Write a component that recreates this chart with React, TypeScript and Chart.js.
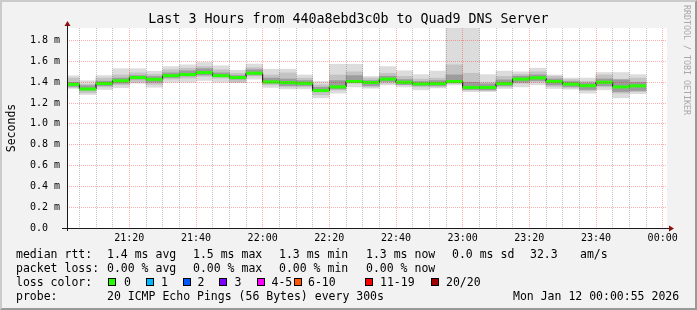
import React, { useEffect, useRef } from "react";
import { Chart, registerables } from "chart.js";

Chart.register(...registerables);

// ---------- data ----------
// time axis: minutes after 21:00
const xMin = 1.3;
const xMax = 181.3;
const stepMinutes = 5;
const xTickLabels = ["21:20", "21:40", "22:00", "22:20", "22:40", "23:00", "23:20", "23:40", "00:00"];
const xLabelEvery = 20;

const yMax = 1.921;
const yMajorTicks = [0, 0.2, 0.4, 0.6, 0.8, 1.0, 1.2, 1.4, 1.6, 1.8];
const yTickLabels = ["0.0  ", "0.2 m", "0.4 m", "0.6 m", "0.8 m", "1.0 m", "1.2 m", "1.4 m", "1.6 m", "1.8 m"];
const yMinorStep = 0.1;

// median rtt per 5-minute step (ms), first step 21:00-21:05
const median = [
  1.380, 1.335, 1.388, 1.414, 1.445, 1.428, 1.463, 1.474, 1.493, 1.463,
  1.445, 1.487, 1.403, 1.396, 1.390, 1.320, 1.355, 1.407, 1.398, 1.430,
  1.400, 1.384, 1.387, 1.407, 1.350, 1.350, 1.387, 1.430, 1.442, 1.407,
  1.382, 1.367, 1.400, 1.355, 1.365,
];
const smokeMax = [
  1.462, 1.415, 1.464, 1.530, 1.530, 1.505, 1.550, 1.567, 1.590, 1.558,
  1.515, 1.575, 1.525, 1.525, 1.470, 1.407, 1.573, 1.573, 1.455, 1.550,
  1.510, 1.473, 1.507, 2.000, 2.000, 1.473, 1.507, 1.500, 1.535, 1.470,
  1.440, 1.440, 1.493, 1.493, 1.473,
];
const smokeMin = [
  1.340, 1.282, 1.330, 1.348, 1.390, 1.352, 1.400, 1.400, 1.417, 1.400,
  1.397, 1.430, 1.350, 1.336, 1.336, 1.250, 1.295, 1.355, 1.343, 1.375,
  1.355, 1.327, 1.345, 1.375, 1.310, 1.310, 1.340, 1.355, 1.375, 1.340,
  1.333, 1.295, 1.327, 1.250, 1.290,
];
const midHi = [
  1.440, 1.380, 1.440, 1.470, 1.490, 1.475, 1.520, 1.535, 1.550, 1.520,
  1.486, 1.540, 1.470, 1.490, 1.440, 1.375, 1.470, 1.500, 1.440, 1.486,
  1.457, 1.430, 1.440, 1.567, 1.486, 1.400, 1.457, 1.475, 1.500, 1.457,
  1.425, 1.410, 1.470, 1.430, 1.440,
];
const midLo = [
  1.350, 1.300, 1.355, 1.375, 1.400, 1.380, 1.430, 1.440, 1.457, 1.440,
  1.400, 1.460, 1.375, 1.355, 1.355, 1.280, 1.325, 1.390, 1.355, 1.390,
  1.375, 1.355, 1.355, 1.390, 1.325, 1.320, 1.355, 1.390, 1.400, 1.360,
  1.345, 1.320, 1.355, 1.295, 1.310,
];
const innerHi = [
  1.400, 1.367, 1.410, 1.440, 1.464, 1.455, 1.490, 1.510, 1.530, 1.490,
  1.464, 1.520, 1.440, 1.432, 1.416, 1.352, 1.416, 1.464, 1.416, 1.458,
  1.426, 1.407, 1.416, 1.471, 1.400, 1.384, 1.423, 1.458, 1.471, 1.432,
  1.407, 1.394, 1.432, 1.423, 1.400,
];
const innerLo = [
  1.360, 1.326, 1.367, 1.390, 1.430, 1.400, 1.445, 1.460, 1.470, 1.457,
  1.430, 1.470, 1.390, 1.368, 1.368, 1.320, 1.336, 1.400, 1.368, 1.407,
  1.378, 1.368, 1.368, 1.394, 1.330, 1.327, 1.368, 1.400, 1.416, 1.375,
  1.359, 1.330, 1.368, 1.311, 1.320,
];

const titleText = "Last 3 Hours from 440a8ebd3c0b to Quad9 DNS Server";
const yAxisTitle = "Seconds";
const sideText = "RRDTOOL / TOBI OETIKER";
const rttLabel = "median rtt:";
const rttStats = ["1.4 ms avg", "1.5 ms max", "1.3 ms min", "1.3 ms now", "0.0 ms sd", "32.3", "am/s"];
const lossLabel = "packet loss:";
const lossStats = ["0.00 % avg", "0.00 % max", "0.00 % min", "0.00 % now"];
const lossColorLabel = "loss color:";
const lossColorNames = ["0", "1", "2", "3", "4-5", "6-10", "11-19", "20/20"];
const lossColorValues = ["#26ff00", "#00b8ff", "#0059ff", "#7e00ff", "#ff00ff", "#ff5500", "#ff0000", "#a10000"];
const probeLabel = "probe:";
const probeText = "20 ICMP Echo Pings (56 Bytes) every 300s";
const dateText = "Mon Jan 12 00:00:55 2026";

// ---------- layout / style ----------
const W = 697;
const H = 310;
const MONO = "'DejaVu Sans Mono', monospace";
const statX = [107, 193, 279, 366, 452, 530, 580];
const swatchX = [108, 145.5, 182.5, 219, 256.5, 294, 365, 430.5];
const swatchLabelX = [124, 161, 197.5, 234.5, 271.5, 308, 380, 446];
const rowY = [254, 268, 282, 296];

const isMultiple = (v: number, step: number) => Math.abs(v / step - Math.round(v / step)) < 1e-6;

const barSet = (lo: number[], hi: number[], color: string, order: number) => ({
  type: "bar" as const,
  data: hi.map((h, i) => ({ x: (i + 0.5) * stepMinutes, y: [lo[i], h] })),
  backgroundColor: color,
  borderWidth: 0,
  grouped: false,
  barPercentage: 1,
  categoryPercentage: 1,
  clip: 0,
  order,
});

const framePlugin = {
  id: "rrdframe",
  beforeDraw(chart: any) {
    const { ctx, chartArea: a } = chart;
    ctx.save();
    ctx.fillStyle = "#ffffff";
    ctx.fillRect(a.left, a.top, a.right - a.left, a.bottom - a.top);
    ctx.restore();
  },
  afterDraw(chart: any) {
    const { ctx, chartArea: a } = chart;
    ctx.save();
    ctx.strokeStyle = "#1a1a1a";
    ctx.lineWidth = 1;
    ctx.beginPath();
    ctx.moveTo(a.left - 5, Math.round(a.bottom) + 0.5);
    ctx.lineTo(a.right + 3, Math.round(a.bottom) + 0.5);
    ctx.moveTo(Math.round(a.left) + 0.5, a.bottom + 3);
    ctx.lineTo(Math.round(a.left) + 0.5, a.top - 2);
    ctx.stroke();
    ctx.fillStyle = "#8b1010";
    const bx = a.right + 2;
    const by = Math.round(a.bottom) + 0.5;
    ctx.beginPath();
    ctx.moveTo(bx, by - 3);
    ctx.lineTo(bx + 5, by);
    ctx.lineTo(bx, by + 3);
    ctx.closePath();
    ctx.fill();
    const lx = Math.round(a.left) + 0.5;
    const ty = a.top - 2;
    ctx.beginPath();
    ctx.moveTo(lx - 3, ty);
    ctx.lineTo(lx, ty - 5);
    ctx.lineTo(lx + 3, ty);
    ctx.closePath();
    ctx.fill();
    ctx.restore();
  },
};

export default function App() {
  const ref = useRef<HTMLCanvasElement>(null);

  useEffect(() => {
    if (!ref.current) return;
    const gridColor = (step: number) => (ctx: any) =>
      ctx.tick && isMultiple(ctx.tick.value, step) ? "rgba(255,0,0,0.32)" : "rgba(100,100,100,0.38)";

    const chart = new Chart(ref.current, {
      type: "bar",
      data: {
        datasets: [
          barSet(smokeMin, smokeMax, "#dcdcdc", 5),
          barSet(midLo, midHi, "#c3c3c3", 4),
          barSet(innerLo, innerHi, "#9c9c9c", 3),
          {
            type: "line",
            data: [{ x: 0, y: median[0] }, ...median.map((v, i) => ({ x: (i + 1) * stepMinutes, y: v }))],
            stepped: "after",
            borderColor: "#000000",
            borderWidth: 1,
            pointRadius: 0,
            fill: false,
            clip: 0,
            order: 2,
          },
          {
            type: "line",
            data: median.map((v, i) => ({ x: (i + 0.5) * stepMinutes, y: v })),
            showLine: false,
            pointStyle: "line",
            pointRadius: (ctx: any) => {
              const s = ctx.chart.scales.x;
              return Math.abs(s.getPixelForValue(stepMinutes) - s.getPixelForValue(0)) / 2;
            },
            pointBorderWidth: 3,
            pointBorderColor: "#26ff00",
            pointBackgroundColor: "#26ff00",
            clip: 0,
            order: 1,
          },
        ] as any,
      },
      options: {
        responsive: false,
        maintainAspectRatio: false,
        animation: false,
        events: [],
        layout: { padding: { top: 28, right: 30, bottom: 0, left: 0 } },
        plugins: { legend: { display: false }, tooltip: { enabled: false }, title: { display: false } },
        scales: {
          x: {
            type: "linear",
            min: xMin,
            max: xMax,
            offset: false,
            afterBuildTicks: (scale: any) => {
              const ticks = [];
              for (let v = stepMinutes; v <= xMax; v += stepMinutes) ticks.push({ value: v });
              scale.ticks = ticks;
            },
            afterFit: (scale: any) => {
              scale.height = 82;
              scale.paddingLeft = 0;
              scale.paddingRight = 0;
            },
            ticks: {
              autoSkip: false,
              maxRotation: 0,
              minRotation: 0,
              padding: 4,
              color: "#000000",
              font: { family: MONO, size: 10 },
              callback: (value: any) => {
                const v = Number(value);
                return isMultiple(v, xLabelEvery) ? xTickLabels[Math.round(v / xLabelEvery) - 1] ?? "" : "";
              },
            },
            grid: { offset: false, drawTicks: false, color: gridColor(xLabelEvery), lineWidth: 1, z: 1 },
            border: { display: false, dash: [1, 1] },
          },
          y: {
            type: "linear",
            min: 0,
            max: yMax,
            afterBuildTicks: (scale: any) => {
              const ticks = [];
              const n = Math.floor(yMax / yMinorStep + 1e-6);
              for (let i = 0; i <= n; i++) ticks.push({ value: Math.round(i * yMinorStep * 1000) / 1000 });
              scale.ticks = ticks;
            },
            afterFit: (scale: any) => {
              scale.width = 67;
              scale.paddingTop = 0;
              scale.paddingBottom = 0;
            },
            ticks: {
              padding: 7,
              color: "#000000",
              font: { family: MONO, size: 10 },
              callback: (value: any) => {
                const v = Number(value);
                const idx = yMajorTicks.findIndex((t) => Math.abs(t - v) < 1e-6);
                return idx >= 0 ? yTickLabels[idx] : "";
              },
            },
            title: {
              display: true,
              text: yAxisTitle,
              color: "#000000",
              font: { family: MONO, size: 11.5 },
              padding: { top: 5, bottom: 0 },
            },
            grid: {
              drawTicks: false,
              color: (ctx: any) =>
                ctx.tick && yMajorTicks.some((t) => Math.abs(t - ctx.tick.value) < 1e-6)
                  ? "rgba(255,0,0,0.32)"
                  : "rgba(100,100,100,0.38)",
              lineWidth: 1,
              z: 1,
            },
            border: { display: false, dash: [1, 1] },
          },
        },
      } as any,
      plugins: [framePlugin],
    });
    return () => chart.destroy();
  }, []);

  const textStyle = (x: number, cy: number): React.CSSProperties => ({
    position: "absolute",
    left: x,
    top: cy - 7,
    height: 14,
    lineHeight: "14px",
    fontFamily: MONO,
    fontSize: 11.5,
    color: "#000",
    whiteSpace: "pre",
  });

  return (
    <div style={{ position: "absolute", left: 0, top: 0, width: W, height: H, background: "#f2f2f2", overflow: "hidden" }}>
      <canvas ref={ref} width={W} height={H} style={{ position: "absolute", left: 0, top: 0, width: W, height: H }} />
      <div
        style={{
          position: "absolute",
          left: 0,
          top: 11,
          width: W,
          textAlign: "center",
          fontFamily: MONO,
          fontSize: 13.3,
          lineHeight: "16px",
          color: "#000",
          whiteSpace: "pre",
        }}
      >
        {titleText}
      </div>
      <div
        style={{
          position: "absolute",
          left: 682,
          top: 5,
          writingMode: "vertical-rl",
          fontFamily: MONO,
          fontSize: 8.3,
          lineHeight: "10px",
          color: "#a8a8a8",
          whiteSpace: "pre",
        }}
      >
        {sideText}
      </div>

      <div style={textStyle(16, rowY[0])}>{rttLabel}</div>
      {rttStats.map((s, i) => (
        <div key={"r" + i} style={textStyle(statX[i], rowY[0])}>{s}</div>
      ))}
      <div style={textStyle(16, rowY[1])}>{lossLabel}</div>
      {lossStats.map((s, i) => (
        <div key={"l" + i} style={textStyle(statX[i], rowY[1])}>{s}</div>
      ))}
      <div style={textStyle(16, rowY[2])}>{lossColorLabel}</div>
      {lossColorNames.map((s, i) => (
        <React.Fragment key={"c" + i}>
          <div
            style={{
              position: "absolute",
              left: swatchX[i],
              top: rowY[2] - 4,
              width: 8,
              height: 8,
              boxSizing: "border-box",
              border: "1px solid #000",
              background: lossColorValues[i],
            }}
          />
          <div style={textStyle(swatchLabelX[i], rowY[2])}>{s}</div>
        </React.Fragment>
      ))}
      <div style={textStyle(16, rowY[3])}>{probeLabel}</div>
      <div style={textStyle(statX[0], rowY[3])}>{probeText}</div>
      <div style={textStyle(513, rowY[3])}>{dateText}</div>

      <div
        style={{
          position: "absolute",
          left: 0,
          top: 0,
          width: W,
          height: H,
          boxSizing: "border-box",
          borderStyle: "solid",
          borderWidth: 2,
          borderColor: "#cbcbcb #999999 #999999 #cbcbcb",
          pointerEvents: "none",
        }}
      />
    </div>
  );
}
